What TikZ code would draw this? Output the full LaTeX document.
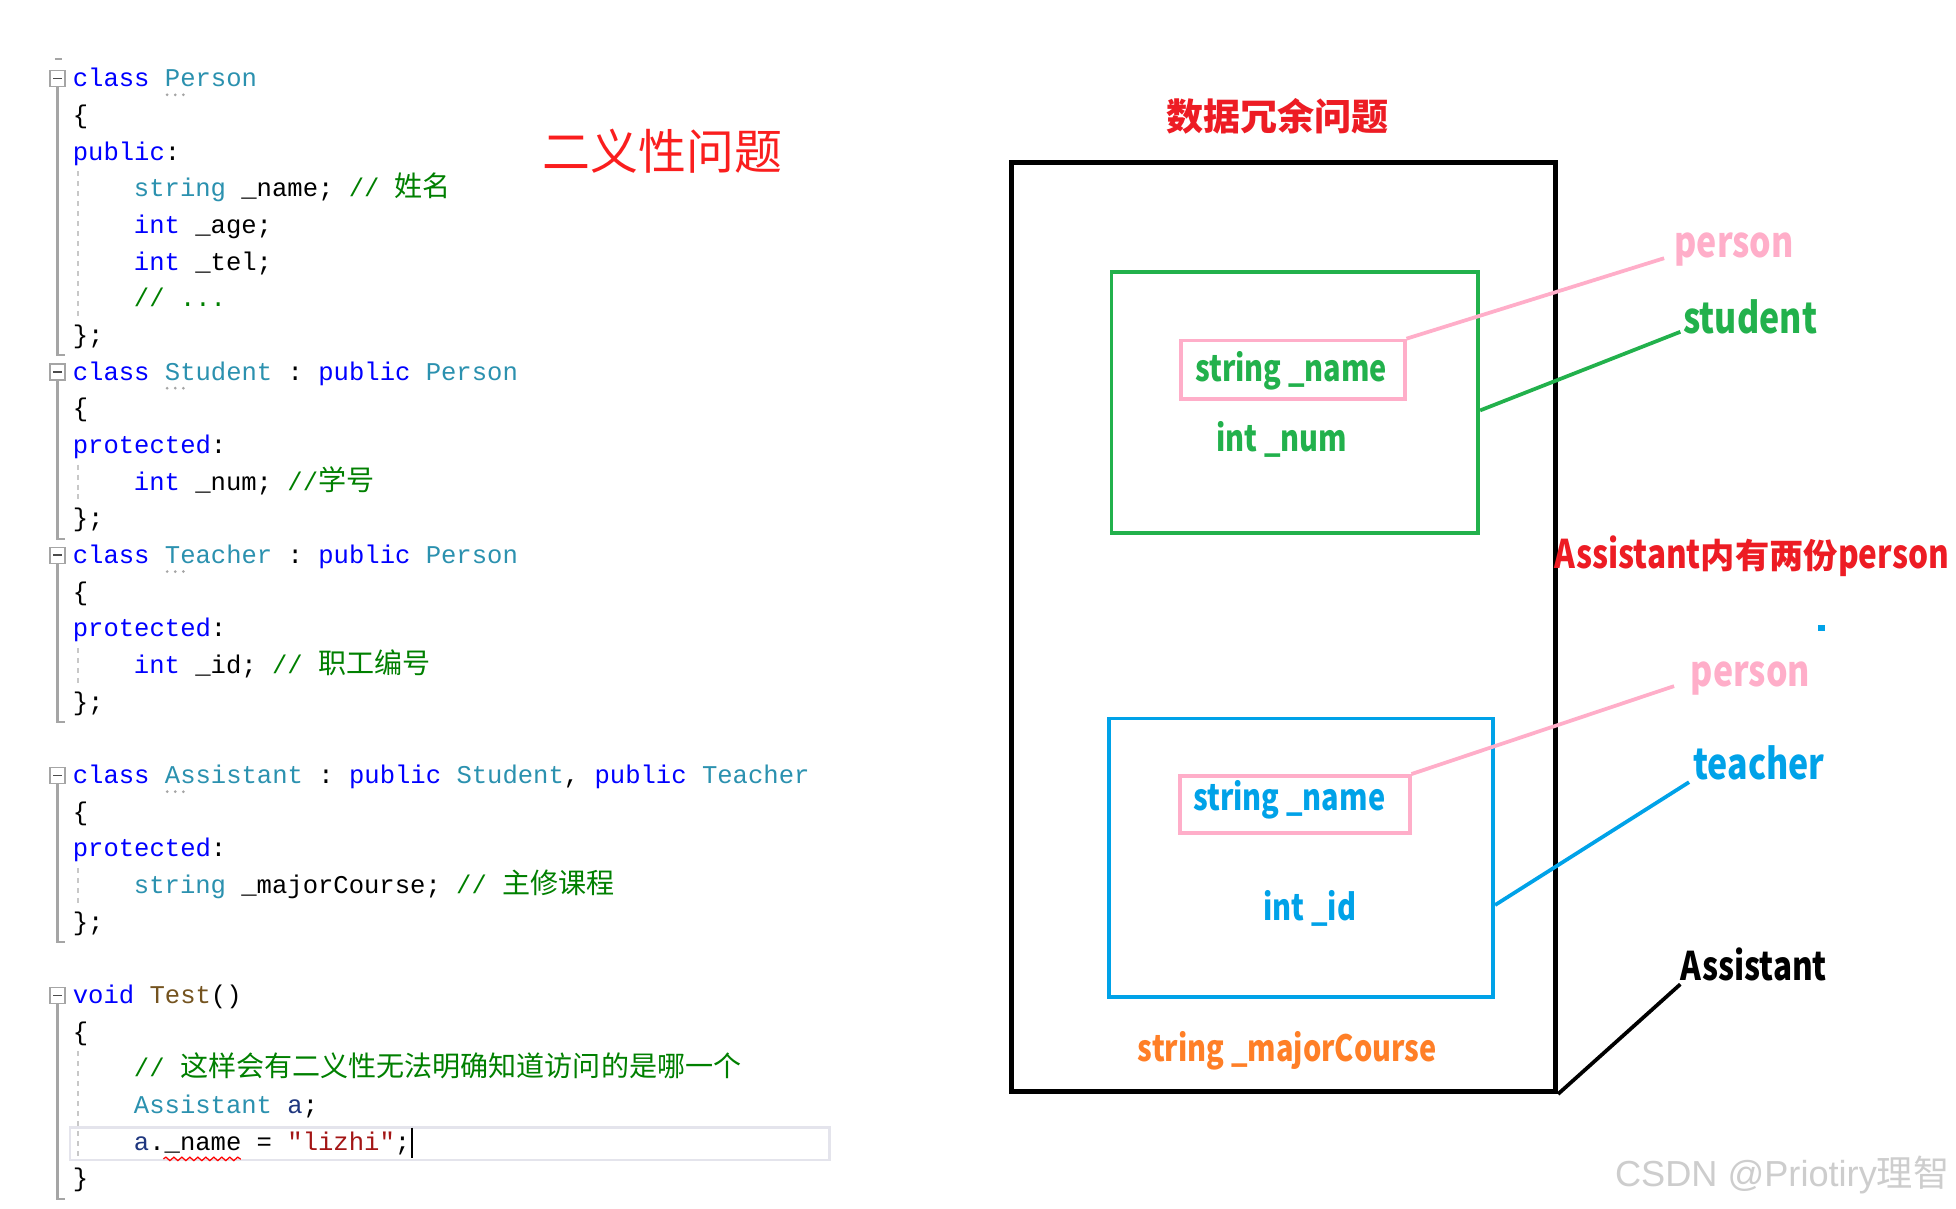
\documentclass[tikz,border=0pt]{standalone}
\usepackage{fontspec}
\setmainfont{Liberation Sans}
\setmonofont{Liberation Mono}
\newfontfamily\cjk{Noto Sans CJK SC}
\newfontfamily\rlat{Noto Sans CJK SC}[FakeStretch=0.8]
\usetikzlibrary{decorations.pathmorphing}
\definecolor{kwblue}{RGB}{0,0,255}
\definecolor{tyteal}{RGB}{43,145,175}
\definecolor{cmgreen}{RGB}{0,128,0}
\definecolor{strred}{RGB}{163,21,21}
\definecolor{fnbrown}{RGB}{116,83,31}
\definecolor{varblue}{RGB}{31,55,127}
\definecolor{gutgray}{RGB}{165,165,165}
\definecolor{guidegray}{RGB}{200,200,200}
\definecolor{hlgray}{RGB}{228,228,236}
\definecolor{pgreen}{RGB}{34,177,76}
\definecolor{ppink}{RGB}{255,174,201}
\definecolor{pblue}{RGB}{0,162,232}
\definecolor{porange}{RGB}{255,127,39}
\definecolor{pred}{RGB}{237,28,36}
\definecolor{tred}{RGB}{250,30,30}
\definecolor{wmgray}{RGB}{205,205,205}
\newcommand{\cKw}[1]{\textcolor{kwblue}{#1}}
\newcommand{\cTy}[1]{\textcolor{tyteal}{#1}}
\newcommand{\cCm}[1]{\textcolor{cmgreen}{#1}}
\newcommand{\cStr}[1]{\textcolor{strred}{#1}}
\newcommand{\cFn}[1]{\textcolor{fnbrown}{#1}}
\newcommand{\cVar}[1]{\textcolor{varblue}{#1}}
\newcommand{\zh}[1]{{\cjk\fontsize{11.25}{12}\selectfont #1}}
\newcommand{\codeline}[3]{\node[codetext] (cl#1) at (#2,{69.5+29.4*#1}) {#3};}
\tikzset{
  codetext/.style={anchor=base west, inner sep=0pt, font=\ttfamily\fontsize{10.25}{12}\selectfont},
  rtext/.style={inner sep=0pt, anchor=base, font=\rlat\bfseries\fontsize{14.5}{16}\selectfont},
  lbl/.style={inner sep=0pt, anchor=base west, font=\rlat\bfseries\fontsize{17}{19}\selectfont},
  pbox/.style={draw, line width=1.5pt, inner sep=0pt},
  conn/.style={line width=1.5pt},
}
\begin{document}
\begin{tikzpicture}[x=0.5pt,y=-0.5pt]
\useasboundingbox (0,0) rectangle (1568,969);
\fill[white] (0,0) rectangle (1568,969);
% ---------- code editor ----------
\draw[gutgray, line width=0.8pt] (44,47) -- (50,47);
\foreach \s/\e in {0/7,8/12,13/17,19/23,25/30}{
  \pgfmathsetmacro{\ys}{63+29.4*\s}
  \pgfmathsetmacro{\ye}{63+29.4*\e+16}
  \draw[gutgray, line width=0.6pt, fill=white] (40,\ys-6.5) rectangle (52,\ys+6.5);
  \draw[black!70, line width=0.7pt] (42.5,\ys) -- (49.5,\ys);
  \draw[gutgray, line width=0.9pt] (46,\ys+6.5) -- (46,\ye) -- (52,\ye);
}
\foreach \s/\e in {3/6,11/11,16/16,22/22,27/29}{
  \pgfmathsetmacro{\ys}{63+29.4*\s-14}
  \pgfmathsetmacro{\ye}{63+29.4*\e+14}
  \draw[guidegray, line width=0.5pt, dash pattern=on 2pt off 2pt] (62.5,\ys) -- (62.5,\ye);
}
\foreach \i in {0,8,13,19}{
  \pgfmathsetmacro{\yd}{63+29.4*\i+13}
  \foreach \xx in {134,140.5,147}{\fill[gutgray] (\xx,\yd) circle (0.6pt);}
}
% current-line highlight
\draw[hlgray, line width=1pt] (56,904) rectangle (665,930);
\codeline{0}{58}{\cKw{class} \cTy{Person}}
\codeline{1}{58}{\{}
\codeline{2}{58}{\cKw{public}:}
\codeline{3}{107}{\cTy{string} \_name; \cCm{// \zh{姓名}}}
\codeline{4}{107}{\cKw{int} \_age;}
\codeline{5}{107}{\cKw{int} \_tel;}
\codeline{6}{107}{\cCm{// ...}}
\codeline{7}{58}{\};}
\codeline{8}{58}{\cKw{class} \cTy{Student} : \cKw{public} \cTy{Person}}
\codeline{9}{58}{\{}
\codeline{10}{58}{\cKw{protected}:}
\codeline{11}{107}{\cKw{int} \_num; \cCm{//\zh{学号}}}
\codeline{12}{58}{\};}
\codeline{13}{58}{\cKw{class} \cTy{Teacher} : \cKw{public} \cTy{Person}}
\codeline{14}{58}{\{}
\codeline{15}{58}{\cKw{protected}:}
\codeline{16}{107}{\cKw{int} \_id; \cCm{// \zh{职工编号}}}
\codeline{17}{58}{\};}
\codeline{19}{58}{\cKw{class} \cTy{Assistant} : \cKw{public} \cTy{Student}, \cKw{public} \cTy{Teacher}}
\codeline{20}{58}{\{}
\codeline{21}{58}{\cKw{protected}:}
\codeline{22}{107}{\cTy{string} \_majorCourse; \cCm{// \zh{主修课程}}}
\codeline{23}{58}{\};}
\codeline{25}{58}{\cKw{void} \cFn{Test}()}
\codeline{26}{58}{\{}
\codeline{27}{107}{\cCm{// \zh{这样会有二义性无法明确知道访问的是哪一个}}}
\codeline{28}{107}{\cTy{Assistant} \cVar{a};}
\codeline{29}{107}{\cVar{a}.\_name = \cStr{"lizhi"};}
\codeline{30}{58}{\}}
\draw[red, line width=0.5pt, decorate, decoration={snake, amplitude=0.7pt, segment length=3.2pt}] (131,929) -- (193,929);
\draw[black, line width=0.7pt] (330,904) -- (330,928);
% title left
\node[inner sep=0pt, text=tred, font=\cjk\fontsize{19.2}{21}\selectfont] (t1) at (531,121) {二义性问题};
% ---------- memory diagram ----------
\node[inner sep=0pt, text=pred, font=\cjk\bfseries\fontsize{14.85}{16}\selectfont] (t2) at (1024,93) {数据冗余问题};
\node[draw, line width=2pt, minimum width=218pt, minimum height=372.5pt, inner sep=0pt] (outer) at (1029,502.5) {};
\node[pbox, draw=pgreen, minimum width=147pt, minimum height=104.5pt] (stud) at (1038,322.5) {};
\node[pbox, draw=ppink, minimum width=89.5pt, minimum height=23.5pt] (pA) at (1036.5,296.5) {};
\node[rtext, text=pgreen] (snA) at (1035,305.5) {string \_name};
\node[rtext, text=pgreen] (inum) at (1027.5,362) {int \_num};
\node[pbox, draw=pblue, minimum width=154pt, minimum height=111.5pt] (teach) at (1043,687.5) {};
\node[pbox, draw=ppink, minimum width=92pt, minimum height=23pt] (pB) at (1038,645) {};
\node[rtext, text=pblue] (snB) at (1033.5,649.5) {string \_name};
\node[rtext, text=pblue] (iid) at (1050,738) {int \_id};
\node[rtext, text=porange] (maj) at (1032,851) {string \_majorCourse};
% labels
\node[lbl, text=ppink] (lp1) at (1342,206.3) {person};
\node[lbl, text=pgreen] (lst) at (1349,267) {student};
\node[inner sep=0pt, anchor=base west, text=pred, font=\rlat\bfseries\fontsize{15.8}{17}\selectfont] (lasst2) at (1246,455.5) {Assistant{\cjk\fontsize{13.75}{15}\selectfont 内有两份}person};
\node[lbl, text=ppink] (lp2) at (1355,550.5) {person};
\node[lbl, text=pblue] (ltc) at (1357,624.8) {teacher};
\node[lbl, text=black, font=\rlat\bfseries\fontsize{15.8}{17}\selectfont] (las) at (1347,785.6) {Assistant};
\fill[pblue] (1457,501) rectangle (1463,505.5);
% connectors
\coordinate (ep1) at (1334,207);
\coordinate (est) at (1347,266);
\coordinate (ep2) at (1342,550);
\coordinate (etc) at (1354,627);
\coordinate (eas) at (1347,789);
\draw[conn, ppink] (pA.north east) -- (ep1);
\draw[conn, pgreen] ([yshift=-3.25pt]stud.east) -- (est);
\draw[conn, ppink] (pB.north east) -- (ep2);
\draw[conn, pblue] ([yshift=-19pt]teach.east) -- (etc);
\draw[conn, black] (outer.south east) -- (eas);
% watermark
\node[inner sep=0pt, anchor=east, text=wmgray, font=\fontsize{14.5}{16}\selectfont] (wm) at (1563,942) {CSDN @Priotiry{\cjk 理智}};
\end{tikzpicture}
\end{document}
